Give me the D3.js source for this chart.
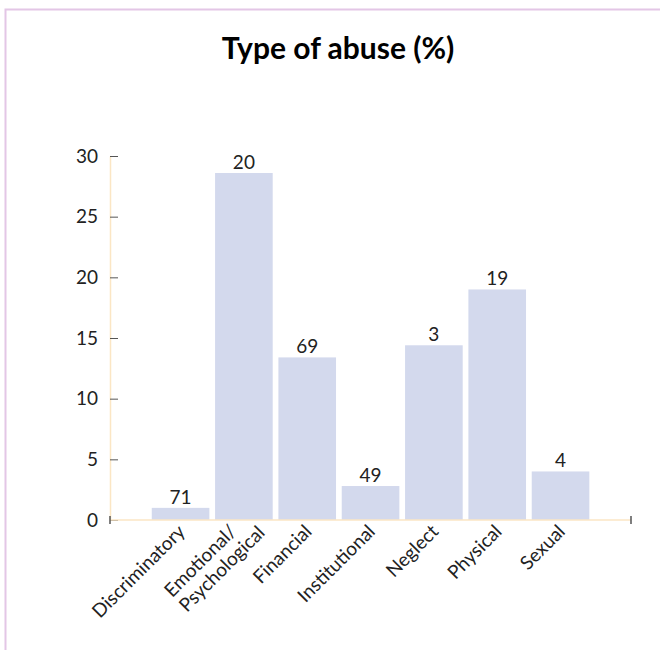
<!doctype html>
<html>
  <head>
    <script src="https://cdn.jsdelivr.net/npm/d3@7"></script>
    <style>
      body { margin: 0; background: #fff; }
      text { font-family: Lato, "Open Sans", sans-serif; fill: #222; }
    </style>
  </head>
  <body>
    <svg id="chart" width="660" height="650"></svg>
    <script>
      // data
      var categories = ["Discriminatory", "Emotional/\nPsychological", "Financial", "Institutional", "Neglect", "Physical", "Sexual"];
      var values = [1, 28.6, 13.4, 2.8, 14.4, 19, 4];
      var barLabels = ["71", "20", "69", "49", "3", "19", "4"];
      var yTicks = [0, 5, 10, 15, 20, 25, 30];

      var svg = d3.select("#chart");

      // pink frame, runs off the right and bottom edges
      svg.append("rect")
        .attr("x", 5.5).attr("y", 9.5)
        .attr("width", 700).attr("height", 700)
        .attr("fill", "none")
        .attr("stroke", "#e3c6e6")
        .attr("stroke-width", 2);

      svg.append("text")
        .attr("x", 338).attr("y", 59)
        .attr("text-anchor", "middle")
        .style("font-size", "30px")
        .style("font-weight", "bold")
        .style("fill", "#000")
        .text("Type of abuse (%)");

      var plotLeft = 110, plotRight = 631, plotBottom = 520, plotTop = 156;

      var x = d3.scaleBand()
        .domain(categories)
        .range([148.9, 592.2])
        .paddingInner(0.09)
        .paddingOuter(0.045);

      var y = d3.scaleLinear()
        .domain([0, 30])
        .range([plotBottom, plotTop]);

      // bars
      svg.append("g")
        .selectAll("rect")
        .data(values)
        .enter()
        .append("rect")
          .attr("x", function(d, i) { return x(categories[i]); })
          .attr("y", function(d) { return y(d); })
          .attr("width", x.bandwidth())
          .attr("height", function(d) { return y(0) - y(d); })
          .attr("fill", "#d3d9ed");

      // labels above the bars
      svg.append("g")
        .selectAll("text")
        .data(values)
        .enter()
        .append("text")
          .attr("x", function(d, i) { return x(categories[i]) + x.bandwidth() / 2; })
          .attr("y", function(d) { return y(d) - 4; })
          .attr("text-anchor", "middle")
          .style("font-size", "19px")
          .text(function(d, i) { return barLabels[i]; });

      // y axis
      var yAxis = svg.append("g")
        .attr("transform", "translate(" + plotLeft + ",0)")
        .call(d3.axisLeft(y).tickValues(yTicks).tickSizeInner(-8).tickSizeOuter(0).tickPadding(12));
      yAxis.select(".domain").attr("stroke", "#fbe6c4").attr("stroke-width", 1.5);
      yAxis.selectAll(".tick line").attr("stroke", "#555");
      yAxis.selectAll(".tick text")
        .style("font-size", "19px")
        .style("font-family", "Lato, sans-serif")
        .attr("fill", "#222");

      // x axis line with small end ticks
      svg.append("line")
        .attr("x1", plotLeft).attr("x2", plotRight)
        .attr("y1", plotBottom).attr("y2", plotBottom)
        .attr("stroke", "#fbe6c4").attr("stroke-width", 1.5);
      svg.selectAll(".endtick")
        .data([plotLeft, plotRight])
        .enter()
        .append("line")
          .attr("x1", function(d) { return d; }).attr("x2", function(d) { return d; })
          .attr("y1", plotBottom - 4).attr("y2", plotBottom + 4)
          .attr("stroke", "#555").attr("stroke-width", 1.5);

      // rotated category labels; wrapped lines are left aligned
      var xl = svg.append("g")
        .selectAll("text")
        .data(categories)
        .enter()
        .append("text")
          .attr("transform", function(d) {
            var shift = d.indexOf("\n") >= 0 ? -12 : 0;
            return "translate(" + (x(d) + x.bandwidth() / 2 + 1 + shift) + "," + (plotBottom + 8) + ") rotate(-45)";
          })
          .attr("text-anchor", "start")
          .style("font-size", "19px");
      xl.each(function(d) {
        var lines = d.split("\n");
        var t = d3.select(this);
        var spans = lines.map(function(s, j) {
          return t.append("tspan")
            .attr("dy", j == 0 ? "0.35em" : "1.1em")
            .text(s);
        });
        var w = spans[0].node().getComputedTextLength();
        spans.forEach(function(sp) { sp.attr("x", -w); });
      });
    </script>
  </body>
</html>
